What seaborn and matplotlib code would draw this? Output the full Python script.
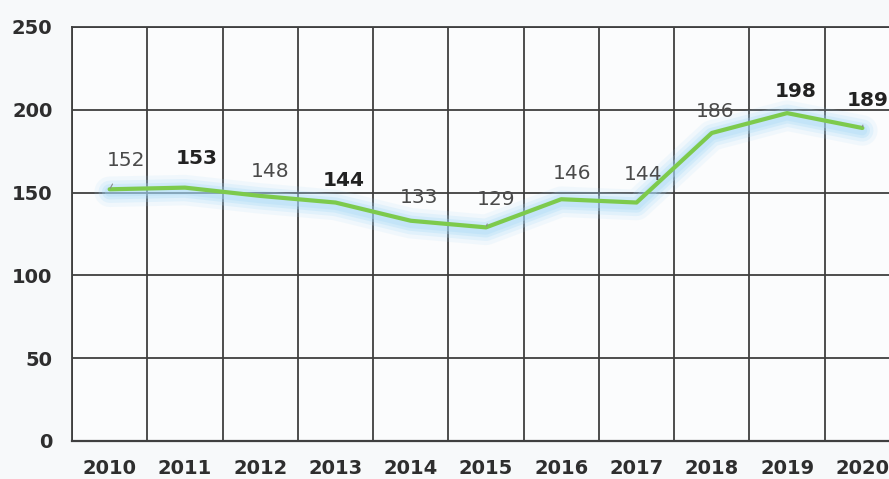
import matplotlib
matplotlib.use("Agg")
import matplotlib.pyplot as plt
import numpy as np
import pandas as pd
import seaborn as sns

# Data
years = ["2010", "2011", "2012", "2013", "2014", "2015",
         "2016", "2017", "2018", "2019", "2020"]
values = [152, 153, 148, 144, 133, 129, 146, 144, 186, 198, 189]
bold_labels = [False, True, False, True, False, False,
               False, False, False, True, True]
y_ticks = [0, 50, 100, 150, 200, 250]

# Label offsets (pixels) from each point
label_offsets = [(16, 29), (12, 29), (10, 24), (8, 22), (8, 23), (10, 28),
                 (11, 26), (7, 28), (3, 21), (9, 22), (5, 28)]
leader = [True, False, False, False, False, True,
          False, False, False, False, True]

df = pd.DataFrame({"year": years, "value": values})

sns.set_theme(style="white")
plt.rcParams["font.family"] = ["DejaVu Sans"]

fig = plt.figure(figsize=(8.89, 4.79), dpi=100)
fig.patch.set_facecolor("#f7f9fa")
ax = fig.add_axes([72 / 889, 1 - 441 / 479, 828 / 889, 414 / 479])
ax.set_facecolor("#fbfcfd")

x = np.arange(len(years))

# soft blue halo under the line, built from a few translucent strokes
for lw, a in [(22, 0.12), (16, 0.2), (11, 0.28), (7, 0.3)]:
    sns.lineplot(x=x, y=df["value"] - 1.5, ax=ax, color="#a6d9f7", lw=lw,
                 alpha=a, solid_capstyle="round", solid_joinstyle="round",
                 zorder=3)
sns.lineplot(x=x, y=df["value"], ax=ax, color="#7dca4c", lw=3.0, zorder=4)

ax.set_xlim(-0.5, len(years) - 0.5)
ax.set_ylim(0, 250)

# grid lines at cell boundaries
ax.set_xticks(x)
ax.set_xticklabels(years)
ax.set_xticks(np.arange(-0.5, len(years), 1), minor=True)
ax.set_yticks(y_ticks)
ax.grid(False)
grid_col = "#3f3f3f"
ax.grid(True, which="minor", axis="x", color=grid_col, lw=1.3, zorder=1)
ax.grid(True, which="major", axis="y", color=grid_col, lw=1.3, zorder=1)
for name, s in ax.spines.items():
    s.set_visible(name != "right")
    s.set_color(grid_col)
    s.set_linewidth(1.6 if name == "bottom" else 1.3)

ax.tick_params(axis="both", which="both", length=0)
ax.tick_params(axis="y", pad=14)
ax.tick_params(axis="x", pad=13)
for lab in ax.get_xticklabels() + ax.get_yticklabels():
    lab.set_fontsize(14)
    lab.set_fontweight("bold")
    lab.set_color("#2e2e2e")
ax.set_xlabel("")
ax.set_ylabel("")

for xi, v, b, off, ld in zip(x, values, bold_labels, label_offsets, leader):
    ax.annotate(
        str(v), xy=(xi, v), xytext=off, textcoords="offset pixels",
        ha="center", va="center", fontsize=14.5,
        fontweight="bold" if b else "normal",
        color="#222222" if b else "#4a4a4a", zorder=6,
        arrowprops=dict(arrowstyle="-", color="#8a8a8a", lw=0.8,
                        shrinkA=9, shrinkB=1) if ld else None,
        annotation_clip=False,
    )

fig.savefig("out.png", dpi=100, facecolor=fig.get_facecolor())
